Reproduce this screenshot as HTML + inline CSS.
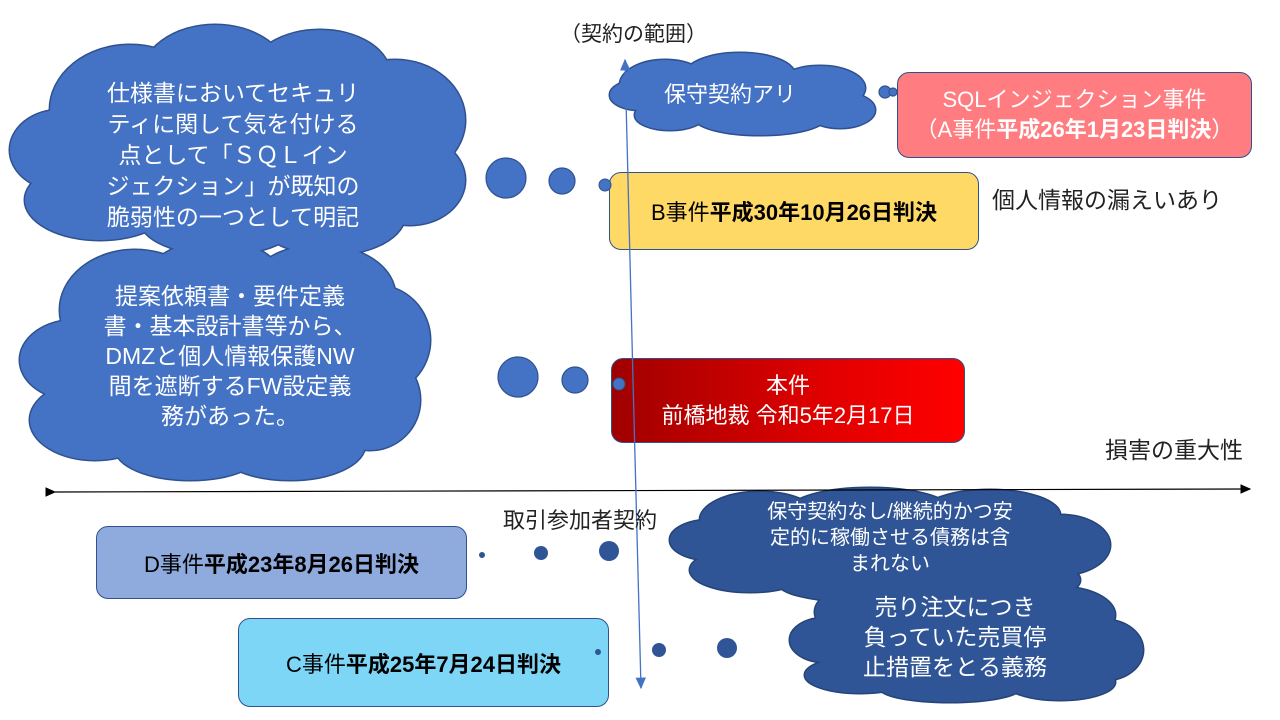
<!DOCTYPE html>
<html><head><meta charset="utf-8"><style>
body{margin:0;width:1280px;height:720px;background:#fff;overflow:hidden;position:relative;font-family:"Liberation Sans","Noto Sans CJK JP",sans-serif}
.t{position:absolute;text-align:center;white-space:nowrap}
.box{position:absolute;border:1.5px solid #2f528f;border-radius:12px;display:flex;align-items:center;justify-content:center;text-align:center;font-size:22px;box-sizing:border-box}
b{font-weight:bold}
</style></head><body>
<svg width="1280" height="720" style="position:absolute;left:0;top:0">
<defs>
<marker id="k" markerWidth="10" markerHeight="10" refX="8" refY="4" orient="auto"><path d="M0,0 L9,4 L0,8 z" fill="#000"/></marker>
<g id="c1"><ellipse cx="130" cy="110" rx="80" ry="65"/><ellipse cx="215" cy="80" rx="75" ry="55"/><ellipse cx="320" cy="75" rx="70" ry="45"/><ellipse cx="395" cy="120" rx="70" ry="60"/><ellipse cx="410" cy="180" rx="55" ry="45"/><ellipse cx="330" cy="215" rx="75" ry="40"/><ellipse cx="220" cy="220" rx="80" ry="35"/><ellipse cx="100" cy="200" rx="75" ry="40"/><ellipse cx="60" cy="150" rx="50" ry="40"/><ellipse cx="240" cy="150" rx="170" ry="70"/></g>
<g id="c2"><ellipse cx="135" cy="310" rx="75" ry="60"/><ellipse cx="215" cy="285" rx="70" ry="45"/><ellipse cx="320" cy="295" rx="75" ry="50"/><ellipse cx="375" cy="340" rx="55" ry="55"/><ellipse cx="370" cy="400" rx="50" ry="50"/><ellipse cx="290" cy="445" rx="75" ry="35"/><ellipse cx="190" cy="448" rx="75" ry="32"/><ellipse cx="95" cy="420" rx="65" ry="40"/><ellipse cx="75" cy="360" rx="55" ry="40"/><ellipse cx="220" cy="370" rx="150" ry="80"/></g>
<g id="c3"><ellipse cx="665" cy="85" rx="45" ry="25"/><ellipse cx="740" cy="75" rx="55" ry="22"/><ellipse cx="820" cy="88" rx="45" ry="22"/><ellipse cx="840" cy="110" rx="35" ry="18"/><ellipse cx="760" cy="118" rx="65" ry="17"/><ellipse cx="670" cy="115" rx="35" ry="15"/><ellipse cx="640" cy="95" rx="30" ry="15"/><ellipse cx="745" cy="98" rx="105" ry="28"/></g>
<g id="c4"><ellipse cx="760" cy="520" rx="60" ry="28"/><ellipse cx="870" cy="510" rx="80" ry="22"/><ellipse cx="990" cy="515" rx="70" ry="25"/><ellipse cx="1060" cy="545" rx="50" ry="30"/><ellipse cx="1020" cy="580" rx="60" ry="20"/><ellipse cx="880" cy="585" rx="100" ry="18"/><ellipse cx="750" cy="570" rx="60" ry="22"/><ellipse cx="710" cy="540" rx="40" ry="20"/><ellipse cx="890" cy="545" rx="200" ry="40"/></g>
<g id="c5"><ellipse cx="870" cy="612" rx="55" ry="28"/><ellipse cx="960" cy="605" rx="65" ry="22"/><ellipse cx="1060" cy="615" rx="55" ry="28"/><ellipse cx="1105" cy="650" rx="38" ry="30"/><ellipse cx="1060" cy="682" rx="55" ry="18"/><ellipse cx="950" cy="688" rx="70" ry="14"/><ellipse cx="860" cy="675" rx="55" ry="18"/><ellipse cx="825" cy="640" rx="35" ry="22"/><ellipse cx="965" cy="645" rx="150" ry="42"/></g>
</defs>
<g fill="#4472c4" stroke="#2f528f" stroke-width="3"><use href="#c1"/><use href="#c2"/><use href="#c3"/></g>
<g fill="#4472c4"><use href="#c1"/><use href="#c2"/><use href="#c3"/></g>
<g fill="#2f5597" stroke="#264478" stroke-width="3"><use href="#c4"/><use href="#c5"/></g>
<g fill="#2f5597"><use href="#c4"/><use href="#c5"/></g>
<g fill="#4472c4" stroke="#2f528f" stroke-width="1.2">
<circle cx="506" cy="178" r="20"/><circle cx="562" cy="181" r="13"/>
<circle cx="518" cy="377" r="20"/><circle cx="575" cy="380" r="13"/>
<circle cx="885" cy="92" r="6"/><circle cx="893" cy="92" r="4"/>
</g>
<g fill="#2f5597">
<circle cx="482" cy="555" r="3"/><circle cx="541" cy="553" r="7"/>
<circle cx="659" cy="650" r="7"/><circle cx="727" cy="648" r="10"/>
</g>
<line x1="55" y1="492" x2="1250" y2="489" stroke="#000" stroke-width="1.2" marker-end="url(#k)" marker-start="url(#k)"/>
</svg>
<div class="box" style="left:897px;top:72px;width:355px;height:86px;background:#ff7c80;color:#fff;line-height:30px"><div>SQLインジェクション事件<br>（A事件<b>平成26年1月23日判決</b>）</div></div>
<div class="box" style="left:609px;top:172px;width:370px;height:78px;background:#ffd966;color:#000"><div>B事件<b>平成30年10月26日判決</b></div></div>
<div class="box" style="left:611px;top:358px;width:354px;height:85px;background:linear-gradient(90deg,#a00000,#e00000 60%,#ff0000);color:#fff;line-height:30px"><div>本件<br>前橋地裁 令和5年2月17日</div></div>
<div class="box" style="left:96px;top:526px;width:371px;height:73px;background:#8faadc;color:#000"><div>D事件<b>平成23年8月26日判決</b></div></div>
<div class="box" style="left:238px;top:618px;width:371px;height:89px;background:#7dd6f6;color:#000"><div>C事件<b>平成25年7月24日判決</b></div></div>
<svg width="1280" height="720" style="position:absolute;left:0;top:0">
<defs><marker id="a2" markerWidth="10" markerHeight="10" refX="8" refY="4" orient="auto"><path d="M0,0 L9,4 L0,8 z" fill="#4472c4"/></marker></defs>
<line x1="633" y1="380" x2="625" y2="60" stroke="#4472c4" stroke-width="1.3" marker-end="url(#a2)"/>
<line x1="633" y1="380" x2="641" y2="688" stroke="#4472c4" stroke-width="1.3" marker-end="url(#a2)"/>
<circle cx="619" cy="384" r="6" fill="#4472c4" stroke="#2f528f"/>
<circle cx="605" cy="185" r="6" fill="#4472c4" stroke="#2f528f"/>
<circle cx="598" cy="652" r="3" fill="#2f5597"/>
<circle cx="609" cy="551" r="10" fill="#2f5597"/>
</svg>
<div class="t" style="left:560px;top:18px;font-size:21px;color:#222">（契約の範囲）</div>
<div class="t" style="left:992px;top:181px;font-size:23px;color:#222">個人情報の漏えいあり</div>
<div class="t" style="left:1105px;top:431px;font-size:23px;color:#222">損害の重大性</div>
<div class="t" style="left:503px;top:503px;font-size:22px;color:#222">取引参加者契約</div>
<div class="t" style="left:664px;top:77px;font-size:22px;color:#fff">保守契約アリ</div>
<div class="t" style="left:73px;top:78px;width:320px;font-size:23px;line-height:31px;color:#fff">仕様書においてセキュリ<br>ティに関して気を付ける<br>点として「ＳＱＬイン<br>ジェクション」が既知の<br>脆弱性の一つとして明記</div>
<div class="t" style="left:75px;top:281px;width:310px;font-size:23px;line-height:30px;color:#fff">提案依頼書・要件定義<br>書・基本設計書等から、<br>DMZと個人情報保護NW<br>間を遮断するFW設定義<br>務があった。</div>
<div class="t" style="left:720px;top:499px;width:340px;font-size:20px;line-height:26px;color:#fff">保守契約なし/継続的かつ安<br>定的に稼働させる債務は含<br>まれない</div>
<div class="t" style="left:825px;top:592px;width:260px;font-size:23px;line-height:30px;color:#fff">売り注文につき<br>負っていた売買停<br>止措置をとる義務</div>
</body></html>
